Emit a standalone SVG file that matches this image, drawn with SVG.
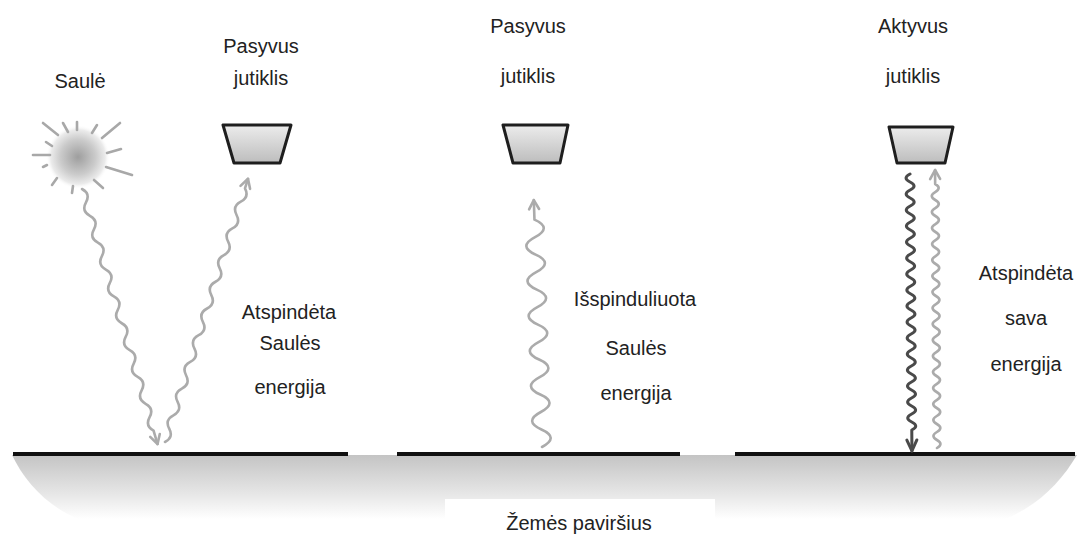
<svg xmlns="http://www.w3.org/2000/svg" width="1081" height="534" viewBox="0 0 1081 534">
  <defs>
    <radialGradient id="sunGlow" cx="0.5" cy="0.5" r="0.5">
      <stop offset="0" stop-color="#9e9e9e"/>
      <stop offset="0.55" stop-color="#cbcbcb"/>
      <stop offset="0.85" stop-color="#ebebeb"/>
      <stop offset="1" stop-color="#ffffff" stop-opacity="0"/>
    </radialGradient>
    <linearGradient id="sensorFill" x1="0" y1="0" x2="0" y2="1">
      <stop offset="0" stop-color="#ececec"/>
      <stop offset="1" stop-color="#bdbdbd"/>
    </linearGradient>
    <linearGradient id="groundFill" x1="0" y1="0" x2="0" y2="1">
      <stop offset="0" stop-color="#c4c4c4"/>
      <stop offset="0.6" stop-color="#e6e6e6"/>
      <stop offset="1" stop-color="#ffffff"/>
    </linearGradient>
    <style>
      text { font-family: "Liberation Sans", Arial, sans-serif; font-size: 20px; fill: #222; text-anchor: middle; }
      .ray { stroke: #a8a8a8; stroke-width: 2.6; stroke-linecap: round; fill: none; }
      .sensor { fill: url(#sensorFill); stroke: #1e1e1e; stroke-width: 3; stroke-linejoin: round; }
      .wave { fill: none; stroke: #ababab; stroke-width: 2.6; stroke-linecap: round; stroke-linejoin: round; }
      .wave-dark { fill: none; stroke: #4a4a4a; stroke-width: 3; stroke-linecap: round; stroke-linejoin: round; }
      .surface { stroke: #111; stroke-width: 4; }
    </style>
  </defs>

  <rect width="1081" height="534" fill="#ffffff"/>

  <!-- ground -->
  <g id="ground">
    <path d="M12,455 L1077,455 C1062,480 1040,505 1005,519 L78,519 C45,505 24,480 12,455 Z" fill="url(#groundFill)"/>
    <rect x="445" y="499" width="270" height="35" fill="#ffffff"/>
    <line class="surface" x1="13" y1="454" x2="348" y2="454"/>
    <line class="surface" x1="397" y1="454" x2="680" y2="454"/>
    <line class="surface" x1="735" y1="454" x2="1075" y2="454"/>
    <text x="579" y="530">Žemės paviršius</text>
  </g>

  <!-- sun -->
  <g id="sun">
    <circle cx="78" cy="157" r="32" fill="url(#sunGlow)"/>
    <line class="ray" x1="43" y1="123" x2="58" y2="135"/>
    <line class="ray" x1="63" y1="123" x2="68" y2="132"/>
    <line class="ray" x1="77" y1="122" x2="77" y2="130"/>
    <line class="ray" x1="97" y1="125" x2="92" y2="133"/>
    <line class="ray" x1="120" y1="123" x2="102" y2="138"/>
    <line class="ray" x1="121" y1="149" x2="107" y2="153"/>
    <line class="ray" x1="106" y1="167" x2="132" y2="175"/>
    <line class="ray" x1="94" y1="180" x2="103" y2="188"/>
    <line class="ray" x1="73" y1="186" x2="72" y2="193"/>
    <line class="ray" x1="57" y1="178" x2="52" y2="185"/>
    <line class="ray" x1="47" y1="165" x2="43" y2="167"/>
    <line class="ray" x1="33" y1="155" x2="50" y2="155"/>
    <line class="ray" x1="46" y1="142" x2="52" y2="146"/>
    <text x="80" y="88">Saulė</text>
  </g>

  <!-- sensors -->
  <g id="sensor-passive-left">
    <path class="sensor" d="M223,125 L291,125 L280,163 L234,163 Z"/>
    <text x="261" y="53">Pasyvus</text>
    <text x="261" y="85">jutiklis</text>
  </g>
  <g id="sensor-passive-mid">
    <path class="sensor" d="M503,125 L568,125 L560,163 L513,163 Z"/>
    <text x="528" y="33">Pasyvus</text>
    <text x="528" y="83">jutiklis</text>
  </g>
  <g id="sensor-active">
    <path class="sensor" d="M889,127 L953,127 L945,163 L897,163 Z"/>
    <text x="913" y="33">Aktyvus</text>
    <text x="913" y="83">jutiklis</text>
  </g>

  <!-- radiation paths -->
  <g id="connectors">
    <!-- sunlight down to the surface -->
    <g transform="translate(82,189) rotate(73.5)">
      <path class="wave" d="M0,0 q7,-7 14,0 t14,0 t14,0 t14,0 t14,0 t14,0 t14,0 t14,0 t14,0 t14,0 t14,0 t14,0 t14,0 t14,0 t14,0 t14,0 t14,0 t14,0 l14,0"/>
      <path class="wave" d="M257,-5 L266,0 L257,5"/>
    </g>
    <!-- reflected sunlight up to the left sensor -->
    <g transform="translate(165,442) rotate(-72.5)">
      <path class="wave" d="M0,0 q7,7 14,0 t14,0 t14,0 t14,0 t14,0 t14,0 t14,0 t14,0 t14,0 t14,0 t14,0 t14,0 t14,0 t14,0 t14,0 t14,0 t14,0 t14,0 t14,0 l10,0"/>
      <path class="wave" d="M267,-5 L276,0 L267,5"/>
    </g>
    <!-- emitted energy up to the middle sensor -->
    <g transform="translate(542,447) rotate(-91.9)">
      <path class="wave" d="M0,0 q8.75,18 17.5,0 t17.5,0 t17.5,0 t17.5,0 t17.5,0 t17.5,0 t17.5,0 t17.5,0 t17.5,0 t17.5,0 t17.5,0 t17.5,0 t17.5,0 l19.5,0"/>
      <path class="wave" d="M238,-5 L247,0 L238,5"/>
    </g>
    <!-- active pulse down from the sensor -->
    <g transform="translate(910,174) rotate(89.6)">
      <path class="wave-dark" d="M0,0 q4,8 8,0 t8,0 t8,0 t8,0 t8,0 t8,0 t8,0 t8,0 t8,0 t8,0 t8,0 t8,0 t8,0 t8,0 t8,0 t8,0 t8,0 t8,0 t8,0 t8,0 t8,0 t8,0 t8,0 t8,0 t8,0 t8,0 t8,0 t8,0 t8,0 t8,0 t8,0 t8,0 l21,0"/>
      <path class="wave-dark" d="M266,-5 L277,0 L266,5"/>
    </g>
    <!-- echo back up to the sensor -->
    <g transform="translate(937,448) rotate(-90.4)">
      <path class="wave" d="M0,0 q4,7 8,0 t8,0 t8,0 t8,0 t8,0 t8,0 t8,0 t8,0 t8,0 t8,0 t8,0 t8,0 t8,0 t8,0 t8,0 t8,0 t8,0 t8,0 t8,0 t8,0 t8,0 t8,0 t8,0 t8,0 t8,0 t8,0 t8,0 t8,0 t8,0 t8,0 t8,0 t8,0 t8,0 l14,0"/>
      <path class="wave" d="M269,-5 L278,0 L269,5"/>
    </g>
  </g>

  <!-- captions -->
  <g id="caption-reflected-sun">
    <text x="289" y="319">Atspindėta</text>
    <text x="290" y="350">Saulės</text>
    <text x="290" y="394">energija</text>
  </g>
  <g id="caption-emitted">
    <text x="635" y="306">Išspinduliuota</text>
    <text x="636" y="355">Saulės</text>
    <text x="636" y="400">energija</text>
  </g>
  <g id="caption-reflected-own">
    <text x="1026" y="280">Atspindėta</text>
    <text x="1026" y="325">sava</text>
    <text x="1026" y="371">energija</text>
  </g>
</svg>
